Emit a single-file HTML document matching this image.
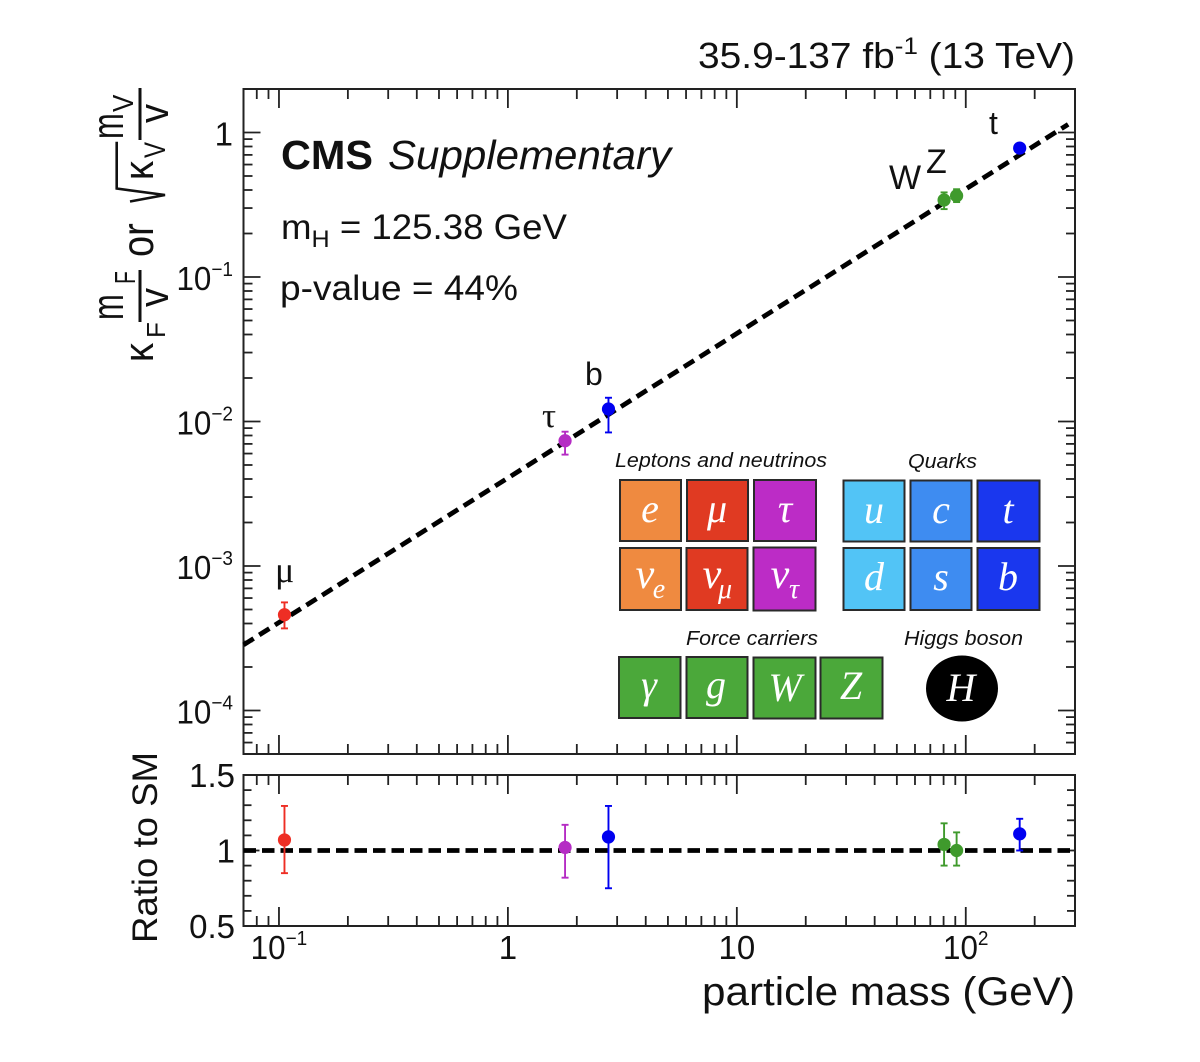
<!DOCTYPE html>
<html lang="en">
<head>
<meta charset="utf-8">
<title>Higgs coupling vs particle mass</title>
<style>
html,body{margin:0;padding:0;background:#fff;}
svg{display:block;}
text{font-family:"Liberation Sans",sans-serif;fill:#111;}
.serif{font-family:"Liberation Serif",serif;font-style:italic;fill:#fff;}
.cap{font-style:italic;font-size:20px;fill:#111;}
.box{stroke:#2a2a2a;stroke-width:2;}
</style>
</head>
<body>
<svg id="chart" xmlns="http://www.w3.org/2000/svg" width="1200" height="1062" viewBox="0 0 1200 1062">
  <rect width="1200" height="1062" fill="#fff"/>

  <text x="698" y="68" font-size="36" textLength="377" lengthAdjust="spacingAndGlyphs">35.9-137 fb<tspan font-size="24" dy="-14">-1</tspan><tspan dy="14"> (13 TeV)</tspan></text>

  <g id="main-panel"></g>
  <g id="ratio-panel"></g>

  <text x="281" y="169" font-size="41" font-weight="bold" textLength="92" lengthAdjust="spacingAndGlyphs">CMS</text>
  <text x="388" y="169" font-size="41" font-style="italic" textLength="283" lengthAdjust="spacingAndGlyphs">Supplementary</text>
  <text x="281" y="239" font-size="35" textLength="286" lengthAdjust="spacingAndGlyphs">m<tspan font-size="24" dy="8">H</tspan><tspan dy="-8"> = 125.38 GeV</tspan></text>
  <text x="280" y="300" font-size="35" textLength="238" lengthAdjust="spacingAndGlyphs">p-value = 44%</text>

  <text x="275" y="582" font-size="36" style="font-family:'Liberation Serif',serif">μ</text>
  <text x="542" y="427" font-size="35" style="font-family:'Liberation Serif',serif">τ</text>
  <text x="585" y="385" font-size="32">b</text>
  <text x="889" y="189" font-size="34">W</text>
  <text x="926" y="173" font-size="34">Z</text>
  <text x="989" y="134" font-size="32">t</text>

  <g>
    <text font-size="31" transform="translate(123,320) rotate(-90) scale(1,1.43)">m</text>
    <text font-size="21" transform="translate(135,284) rotate(-90) scale(1,1.35)">F</text>
    <line x1="140" y1="322" x2="140" y2="270" stroke="#111" stroke-width="3"/>
    <text font-size="38" transform="translate(168,307) rotate(-90) scale(1,1.1)">v</text>
    <text font-size="38" transform="translate(153,362) rotate(-90) scale(1,1.1)">κ</text>
    <text font-size="26" transform="translate(165,338) rotate(-90)">F</text>
    <text font-size="38" transform="translate(153,257) rotate(-90) scale(1,1.18)">or</text>
    <path d="M130 201.5 L165 195 L116.7 188.5 L116.7 141.7" fill="none" stroke="#111" stroke-width="2.6"/>
    <text font-size="38" transform="translate(153,180) rotate(-90) scale(1,1.1)">κ</text>
    <text font-size="24" transform="translate(165,158) rotate(-90) scale(1,1.25)">V</text>
    <text font-size="31" transform="translate(123,139) rotate(-90) scale(1,1.43)">m</text>
    <text font-size="26" transform="translate(133,112) rotate(-90) scale(1,1.1)">V</text>
    <line x1="140" y1="140" x2="140" y2="88" stroke="#111" stroke-width="3"/>
    <text font-size="38" transform="translate(168,123) rotate(-90) scale(1,1.1)">v</text>
  </g>

  <text font-size="35" transform="translate(157,943) rotate(-90)" textLength="191" lengthAdjust="spacingAndGlyphs">Ratio to SM</text>
  <text x="702" y="1005" font-size="40" textLength="373" lengthAdjust="spacingAndGlyphs">particle mass (GeV)</text>

  <g>
    <text class="cap" x="615" y="467" textLength="212" lengthAdjust="spacingAndGlyphs">Leptons and neutrinos</text>
    <text class="cap" x="908" y="468" textLength="69" lengthAdjust="spacingAndGlyphs">Quarks</text>
    <text class="cap" x="686" y="645" textLength="132" lengthAdjust="spacingAndGlyphs">Force carriers</text>
    <text class="cap" x="904" y="645" textLength="119" lengthAdjust="spacingAndGlyphs">Higgs boson</text>

    <rect class="box" x="620" y="480" width="61" height="61" fill="#EF8A40"/>
    <rect class="box" x="687" y="480" width="61" height="61" fill="#E03A22"/>
    <rect class="box" x="754" y="480" width="62" height="61" fill="#BC2CC6"/>
    <rect class="box" x="620" y="548" width="61" height="62" fill="#EF8A40"/>
    <rect class="box" x="686.500" y="548" width="61" height="62" fill="#E03A22"/>
    <rect class="box" x="753.500" y="547.500" width="62" height="63" fill="#BC2CC6"/>
    <rect class="box" x="843.500" y="480.500" width="61" height="61" fill="#52C4F6"/>
    <rect class="box" x="910.500" y="480.500" width="61" height="61" fill="#3E8CF1"/>
    <rect class="box" x="977.500" y="480.500" width="62" height="61" fill="#1A37EE"/>
    <rect class="box" x="843.500" y="548" width="61" height="62" fill="#52C4F6"/>
    <rect class="box" x="910.500" y="548" width="61" height="62" fill="#3E8CF1"/>
    <rect class="box" x="977.500" y="548" width="62" height="62" fill="#1A37EE"/>
    <rect class="box" x="619" y="657" width="61.500" height="61" fill="#4BA83A"/>
    <rect class="box" x="686.500" y="657" width="61" height="61" fill="#4BA83A"/>
    <rect class="box" x="753.500" y="657.500" width="62" height="61" fill="#4BA83A"/>
    <rect class="box" x="820.500" y="657.500" width="62" height="61" fill="#4BA83A"/>
    <ellipse cx="962" cy="688.500" rx="36" ry="33" fill="#000"/>

    <g font-size="40" text-anchor="middle">
      <text class="serif" x="650" y="522">e</text>
      <text class="serif" x="717" y="522">μ</text>
      <text class="serif" x="785" y="522">τ</text>
      <text class="serif" x="645" y="588" font-size="42">ν</text>
      <text class="serif" x="659" y="598" font-size="28">e</text>
      <text class="serif" x="712" y="588" font-size="42">ν</text>
      <text class="serif" x="725" y="598" font-size="28">μ</text>
      <text class="serif" x="780" y="588" font-size="42">ν</text>
      <text class="serif" x="794" y="598" font-size="28">τ</text>
      <text class="serif" x="874" y="523">u</text>
      <text class="serif" x="941" y="523">c</text>
      <text class="serif" x="1008" y="523">t</text>
      <text class="serif" x="874" y="590">d</text>
      <text class="serif" x="941" y="590">s</text>
      <text class="serif" x="1008" y="590">b</text>
      <text class="serif" x="649" y="698">γ</text>
      <text class="serif" x="716" y="698">g</text>
      <text class="serif" x="785" y="701">W</text>
      <text class="serif" x="851" y="699">Z</text>
      <text class="serif" x="961" y="701">H</text>
    </g>
  </g>
</svg>

<script>
// Chart data
var particleNames = ['muon', 'tau', 'bottom', 'w', 'z', 'top'];
var particleColors = ['#EE2E24', '#B52CC4', '#0000F0', '#3F9A2C', '#3F9A2C', '#0000F0'];
var particleMasses = [0.1057, 1.777, 2.75, 80.4, 91.2, 172];
var mainValues = [0.00046, 0.00736, 0.0122, 0.341, 0.365, 0.78];
var mainUpper = [0.00056, 0.0085, 0.0146, 0.385, 0.405, 0.81];
var mainLower = [0.00037, 0.0059, 0.0084, 0.295, 0.33, 0.75];
var ratioValues = [1.07, 1.02, 1.09, 1.04, 1.0, 1.11];
var ratioUpper = [1.295, 1.17, 1.295, 1.18, 1.12, 1.21];
var ratioLower = [0.85, 0.82, 0.75, 0.9, 0.9, 1.0];

var smLineMasses = [0.07, 280];
var vacuumExpectation = 246;
var ratioReference = 1;

var xMajorTicks = [0.1, 1, 10, 100];
var xTickBase = ['10', '1', '10', '10'];
var xTickExp = ['−1', '', '', '2'];
var yMajorTicks = [1, 0.1, 0.01, 0.001, 0.0001];
var yTickBase = ['1', '10', '10', '10', '10'];
var yTickExp = ['', '−1', '−2', '−3', '−4'];
var ratioMajorTicks = [1.5, 1, 0.5];
var ratioTickLabels = ['1.5', '1', '0.5'];
var ratioMinorTicks = [1.4, 1.3, 1.2, 1.1, 0.9, 0.8, 0.7, 0.6];

var SVGNS = 'http://www.w3.org/2000/svg';
var plotLeft = 243.5, plotRight = 1075;
var mainTop = 89, mainBottom = 754;
var ratioTop = 775, ratioBottom = 926;
var xDomain = [0.07, 300];
var yDomain = [2, 0.00005];
var ratioDomain = [1.5, 0.5];

function xScale(m) {
  var lo = Math.log10(xDomain[0]), hi = Math.log10(xDomain[1]);
  return plotLeft + (Math.log10(m) - lo) / (hi - lo) * (plotRight - plotLeft);
}
function yScale(v) {
  var hi = Math.log10(yDomain[0]), lo = Math.log10(yDomain[1]);
  return mainTop + (hi - Math.log10(v)) / (hi - lo) * (mainBottom - mainTop);
}
function ratioScale(v) {
  return ratioTop + (ratioDomain[0] - v) / (ratioDomain[0] - ratioDomain[1]) * (ratioBottom - ratioTop);
}
function make(parent, tag, props) {
  var el = document.createElementNS(SVGNS, tag);
  for (var k in props) { el.setAttribute(k, props[k]); }
  parent.appendChild(el);
  return el;
}
function tickLine(parent, x1, y1, x2, y2, width) {
  var el = make(parent, 'line', {x1: x1, y1: y1, x2: x2, y2: y2, stroke: '#222', 'stroke-width': width});
  
  
  return el;
}
function drawFrame(parent, top, bottom) {
  var r = make(parent, 'rect', {x: plotLeft, y: top, width: plotRight - plotLeft, height: bottom - top, fill: 'none', stroke: '#222', 'stroke-width': 2});
  
  
}
function drawXTicks(parent, top, bottom) {
  var majorLen = 19, minorLen = 10;
  for (var d = -2; d <= 2; d++) {
    for (var n = 1; n <= 9; n++) {
      var m = n * Math.pow(10, d);
      if (m <= xDomain[0] || m >= xDomain[1]) { continue; }
      var len = n === 1 ? majorLen : minorLen;
      var x = xScale(m);
      tickLine(parent, x, top, x, top + len, 1.8);
      tickLine(parent, x, bottom, x, bottom - len, 1.8);
    }
  }
}
function drawSuperLabel(parent, x, y, anchor, base, exp, name) {
  var t = make(parent, 'text', {x: x, y: y, 'text-anchor': anchor, 'font-size': 33});
  
  
  t.textContent = base;
  if (exp) {
    var s = make(t, 'tspan', {'font-size': 20, dy: -14});
    s.textContent = exp;
    t.setAttribute('lengthAdjust', 'spacingAndGlyphs');
    t.setAttribute('textLength', t.getComputedTextLength() * 0.95);
  }
  return t;
}
function drawPoint(parent, i, px, py, pyUp, pyLow, panel) {
  var c = particleColors[i];
  var g = make(parent, 'g', {});
  
  
  var stem = make(g, 'line', {x1: px, y1: pyUp, x2: px, y2: pyLow, stroke: c, 'stroke-width': 1.9});
  
  
  [pyUp, pyLow].forEach(function (cy) {
    var cap = make(g, 'line', {x1: px - 3.5, y1: cy, x2: px + 3.5, y2: cy, stroke: c, 'stroke-width': 1.9});
    
    
  });
  var dot = make(g, 'circle', {cx: px, cy: py, r: 6.6, fill: c});
  
  
}

// Main panel
var mainPanel = document.getElementById('main-panel');
drawFrame(mainPanel, mainTop, mainBottom);
drawXTicks(mainPanel, mainTop, mainBottom);
for (var d = -5; d <= 0; d++) {
  for (var n = 1; n <= 9; n++) {
    var v = n * Math.pow(10, d);
    if (v <= yDomain[1] || v >= yDomain[0]) { continue; }
    var len = n === 1 ? 17 : 9;
    var y = yScale(v);
    tickLine(mainPanel, plotLeft, y, plotLeft + len, y, 1.8);
    tickLine(mainPanel, plotRight, y, plotRight - len, y, 1.8);
  }
}
yMajorTicks.forEach(function (v, i) {
  drawSuperLabel(mainPanel, 233, yScale(v) + 13, 'end', yTickBase[i], yTickExp[i], 'y-tick-label');
});
var smLine = make(mainPanel, 'line', {
  x1: xScale(smLineMasses[0]), y1: yScale(smLineMasses[0] / vacuumExpectation),
  x2: xScale(smLineMasses[1]), y2: yScale(smLineMasses[1] / vacuumExpectation),
  stroke: '#000', 'stroke-width': 4.8, 'stroke-dasharray': '12 6.6'
});


particleMasses.forEach(function (m, i) {
  drawPoint(mainPanel, i, xScale(m), yScale(mainValues[i]), yScale(mainUpper[i]), yScale(mainLower[i]), 'main');
});

// Ratio panel
var ratioPanel = document.getElementById('ratio-panel');
drawFrame(ratioPanel, ratioTop, ratioBottom);
drawXTicks(ratioPanel, ratioTop, ratioBottom);
ratioMinorTicks.forEach(function (v) {
  var y = ratioScale(v);
  tickLine(ratioPanel, plotLeft, y, plotLeft + 8, y, 1.8);
  tickLine(ratioPanel, plotRight, y, plotRight - 8, y, 1.8);
});
ratioMajorTicks.forEach(function (v, i) {
  var y = ratioScale(v);
  tickLine(ratioPanel, plotLeft, y, plotLeft + 16, y, 1.8);
  tickLine(ratioPanel, plotRight, y, plotRight - 16, y, 1.8);
  drawSuperLabel(ratioPanel, 235, y + 12, 'end', ratioTickLabels[i], '', 'ratio-tick-label');
});
xMajorTicks.forEach(function (m, i) {
  drawSuperLabel(ratioPanel, xScale(m), 959, 'middle', xTickBase[i], xTickExp[i], 'x-tick-label');
});
var refLine = make(ratioPanel, 'line', {
  x1: plotLeft, y1: ratioScale(ratioReference), x2: 1071, y2: ratioScale(ratioReference),
  stroke: '#000', 'stroke-width': 4.8, 'stroke-dasharray': '12.5 6'
});


particleMasses.forEach(function (m, i) {
  drawPoint(ratioPanel, i, xScale(m), ratioScale(ratioValues[i]), ratioScale(ratioUpper[i]), ratioScale(ratioLower[i]), 'ratio');
});
</script>
</body>
</html>
